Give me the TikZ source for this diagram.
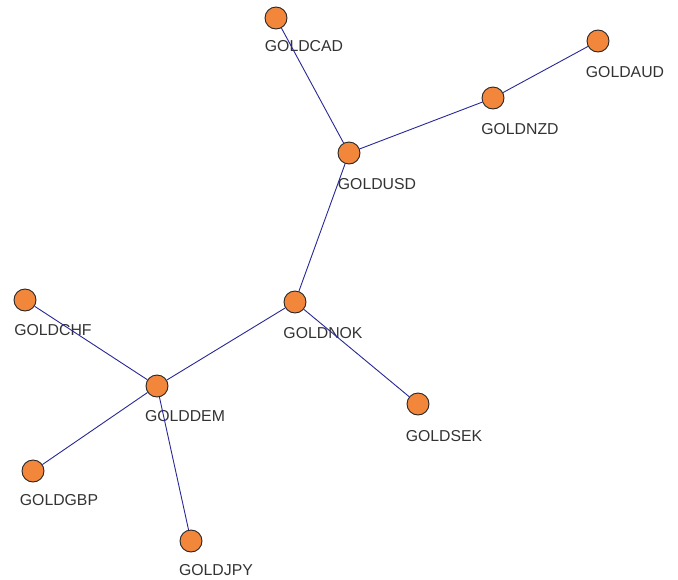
\documentclass[tikz,border=0pt]{standalone}
\usepackage{fontspec}
\setmainfont{Liberation Sans}
\usepackage{tikz}
\usepackage{xcolor}
\usetikzlibrary{positioning}
\definecolor{vfill}{RGB}{242,135,60}
\definecolor{eblue}{RGB}{40,40,150}
\tikzset{
  vert/.style={circle,draw=black!85,fill=vfill,line width=0.9pt,minimum size=22pt,inner sep=0pt},
  lab/.style={text=black!80,font=\fontsize{15.8}{18}\selectfont,inner sep=0pt},
  edge/.style={eblue,line width=0.9pt}
}

\begin{document}
\begin{tikzpicture}[x=1pt,y=-1pt]
\useasboundingbox (0,0) rectangle (678,579);
% labels
\node[lab] (cad-l) at (304,46) {GOLDCAD};
\node[lab] (aud-l) at (625,72) {GOLDAUD};
\node[lab] (nzd-l) at (520,129) {GOLDNZD};
\node[lab] (usd-l) at (377,184) {GOLDUSD};
\node[lab] (nok-l) at (323,333) {GOLDNOK};
\node[lab] (chf-l) at (53,330) {GOLDCHF};
\node[lab] (dem-l) at (185,416) {GOLDDEM};
\node[lab] (sek-l) at (444,436) {GOLDSEK};
\node[lab] (gbp-l) at (59,500) {GOLDGBP};
\node[lab] (jpy-l) at (216,570) {GOLDJPY};

% vertices
\node[vert] (cad) at (276,18) {};
\node[vert] (aud) at (598,41) {};
\node[vert] (nzd) at (493,98) {};
\node[vert] (usd) at (349,153) {};
\node[vert] (nok) at (295,302) {};
\node[vert] (chf) at (25,300) {};
\node[vert] (dem) at (157,386) {};
\node[vert] (sek) at (418,404) {};
\node[vert] (gbp) at (33,471) {};
\node[vert] (jpy) at (191,541) {};

% edges
\draw[edge] (cad) -- (usd);
\draw[edge] (usd) -- (nzd);
\draw[edge] (nzd) -- (aud);
\draw[edge] (usd) -- (nok);
\draw[edge] (nok) -- (dem);
\draw[edge] (nok) -- (sek);
\draw[edge] (dem) -- (chf);
\draw[edge] (dem) -- (gbp);
\draw[edge] (dem) -- (jpy);
\end{tikzpicture}
\end{document}
